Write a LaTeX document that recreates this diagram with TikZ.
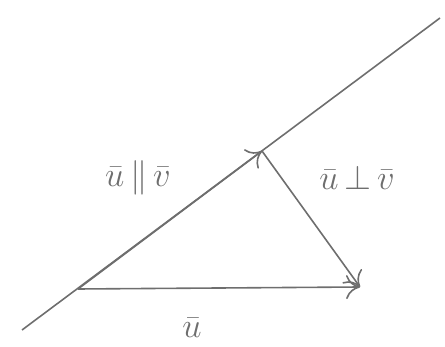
\documentclass[tikz,border=0pt]{standalone}
\usepackage{amsmath,amssymb}
\usepackage{tikz}
\usetikzlibrary{arrows.meta,positioning}
\usepackage{xcolor}
\definecolor{pencil}{HTML}{6E6E6E}

\begin{document}
\begin{tikzpicture}[
  x=0.5pt, y=-0.5pt,
  font=\LARGE,
  pen/.style={draw=pencil, line width=0.8pt},
  vec/.style={pen, -{To[length=7pt,width=12pt]}},
  lbl/.style={text=pencil, inner sep=1pt}
]
\useasboundingbox (0,0) rectangle (445,347);
% the line carrying v
\coordinate (lo) at (22,330);
\coordinate (hi) at (440,18);
\draw[pen] (lo) -- (hi);
% the vectors
\coordinate (o) at (78,289);
\coordinate (p) at (262,151);
\coordinate (u) at (360,287);
\draw[vec] (o) -- (u);
\draw[vec] (o) -- (p);
\draw[vec] (p) -- (u);
\node[lbl] (upar) at (138,178) {$\bar{u}\,{\parallel}\,\bar{v}$};
\node[lbl] (uperp) at (357,178) {$\bar{u}\,{\perp}\,\bar{v}$};
\node[lbl] (ulbl) at (192,328) {$\bar{u}$};
\end{tikzpicture}
\end{document}
